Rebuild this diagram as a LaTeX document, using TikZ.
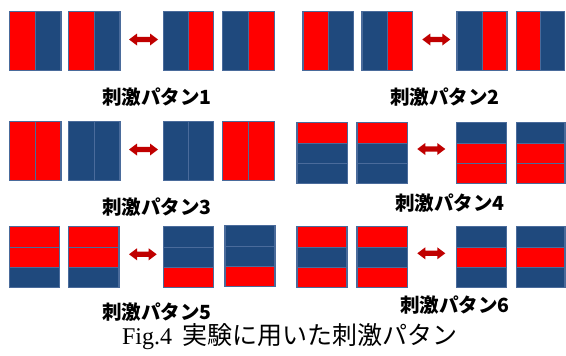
\documentclass[tikz,border=0pt]{standalone}
\usepackage{fontspec}
\setmainfont{Liberation Serif}
\newfontfamily\cjk{Noto Sans CJK JP}
\definecolor{cblue}{HTML}{1F497D}
\definecolor{cedge}{HTML}{4A6B9B}
\definecolor{cred}{HTML}{FF0000}
\definecolor{carrow}{HTML}{C00000}
\tikzset{
  cell/.style={draw=cedge, line width=0.7pt},
  frame/.style={draw=cedge, line width=1.3pt},
  lab/.style={font=\cjk\bfseries\fontsize{19.5}{21}\selectfont, inner sep=0pt},
  arrowshape/.style={fill=carrow, draw=none}
}
% vertical split square: x1 y1 x2 y2 leftcolor rightcolor
\newcommand\vsqr[6]{%
  \path[cell, fill=#5] (#1,#2) rectangle ({(#1+#3)/2},#4);
  \path[cell, fill=#6] ({(#1+#3)/2},#2) rectangle (#3,#4);
  \path[frame] (#1,#2) rectangle (#3,#4);
}
% horizontal three-stripe square: x1 y1 x2 y2 top middle bottom
\newcommand\hsqr[7]{%
  \path[cell, fill=#5] (#1,#2) rectangle (#3,{#2+(#4-#2)/3});
  \path[cell, fill=#6] (#1,{#2+(#4-#2)/3}) rectangle (#3,{#2+2*(#4-#2)/3});
  \path[cell, fill=#7] (#1,{#2+2*(#4-#2)/3}) rectangle (#3,#4);
  \path[frame] (#1,#2) rectangle (#3,#4);
}
% double arrow: x1 x2 ycenter
\newcommand\dblarr[3]{%
  \path[arrowshape] (#1,#3) -- ({#1+8},{#3-6}) -- ({#1+8},{#3-2.6}) -- ({#2-8},{#3-2.6})
    -- ({#2-8},{#3-6}) -- (#2,#3) -- ({#2-8},{#3+6}) -- ({#2-8},{#3+2.6})
    -- ({#1+8},{#3+2.6}) -- ({#1+8},{#3+6}) -- cycle;
}
\begin{document}
\begin{tikzpicture}[x=1pt,y=-1pt]
\useasboundingbox (0,0) rectangle (566,356);
\fill[white] (0,0) rectangle (566,356);

% Pattern 1
\vsqr{9.3}{11.7}{61}{70.7}{cred}{cblue}
\vsqr{68.3}{11.7}{120}{70.7}{cred}{cblue}
\dblarr{129}{158}{39.5}
\vsqr{163.3}{11.7}{213.3}{70.7}{cblue}{cred}
\vsqr{222.7}{11.7}{274.3}{70.7}{cblue}{cred}
\node[lab] (l1) at (157,97) {刺激パタン1};

% Pattern 2
\vsqr{303}{11.7}{353.3}{70.7}{cred}{cblue}
\vsqr{362}{11.7}{412.3}{70.7}{cblue}{cred}
\dblarr{422.3}{450.3}{39.5}
\vsqr{457}{11.7}{507}{70.7}{cblue}{cred}
\vsqr{516.5}{11.7}{564.5}{70.7}{cred}{cblue}
\node[lab] (l2) at (444.7,97) {刺激パタン2};

% Pattern 3
\vsqr{9.3}{121.7}{61}{180.7}{cred}{cred}
\vsqr{68.3}{121.7}{120}{180.7}{cblue}{cblue}
\dblarr{129}{158}{149.5}
\vsqr{163.3}{121.7}{213.3}{180.7}{cblue}{cblue}
\vsqr{222.7}{121.7}{274.3}{180.7}{cred}{cred}
\node[lab] (l3) at (157,206.7) {刺激パタン3};

% Pattern 4
\hsqr{297}{122.7}{347.3}{183.3}{cred}{cblue}{cblue}
\hsqr{357}{122.7}{407.3}{183.3}{cred}{cblue}{cblue}
\dblarr{417.3}{445.3}{149}
\hsqr{456.3}{122.7}{506.3}{183.3}{cblue}{cred}{cred}
\hsqr{516.3}{122.7}{565}{183.3}{cblue}{cred}{cred}
\node[lab] (l4) at (449.7,203) {刺激パタン4};

% Pattern 5
\hsqr{9.3}{226.7}{59.3}{287.7}{cred}{cred}{cblue}
\hsqr{68.3}{226.7}{119}{287.7}{cred}{cred}{cblue}
\dblarr{129}{156.7}{254.3}
\hsqr{163.3}{226.7}{213.3}{287.7}{cblue}{cblue}{cred}
\hsqr{225}{225.7}{275}{286.7}{cblue}{cblue}{cred}
\node[lab] (l5) at (156.7,311.7) {刺激パタン5};

% Pattern 6
\hsqr{297}{226.7}{347}{287.7}{cred}{cblue}{cred}
\hsqr{357}{226.7}{407.3}{287.7}{cred}{cblue}{cred}
\dblarr{417.3}{445.3}{253.3}
\hsqr{456.3}{226.7}{506.3}{287.7}{cblue}{cred}{cblue}
\hsqr{516.3}{226.7}{565}{287.7}{cblue}{cred}{cblue}
\node[lab] (l6) at (454.7,305) {刺激パタン6};

% Caption
\node[inner sep=0pt] (cap) at (290,337) {\fontsize{24}{26}\selectfont Fig.4\hspace{0.45em}{\cjk\fontsize{25}{26}\selectfont 実験に用いた刺激パタン}};
\end{tikzpicture}
\end{document}
